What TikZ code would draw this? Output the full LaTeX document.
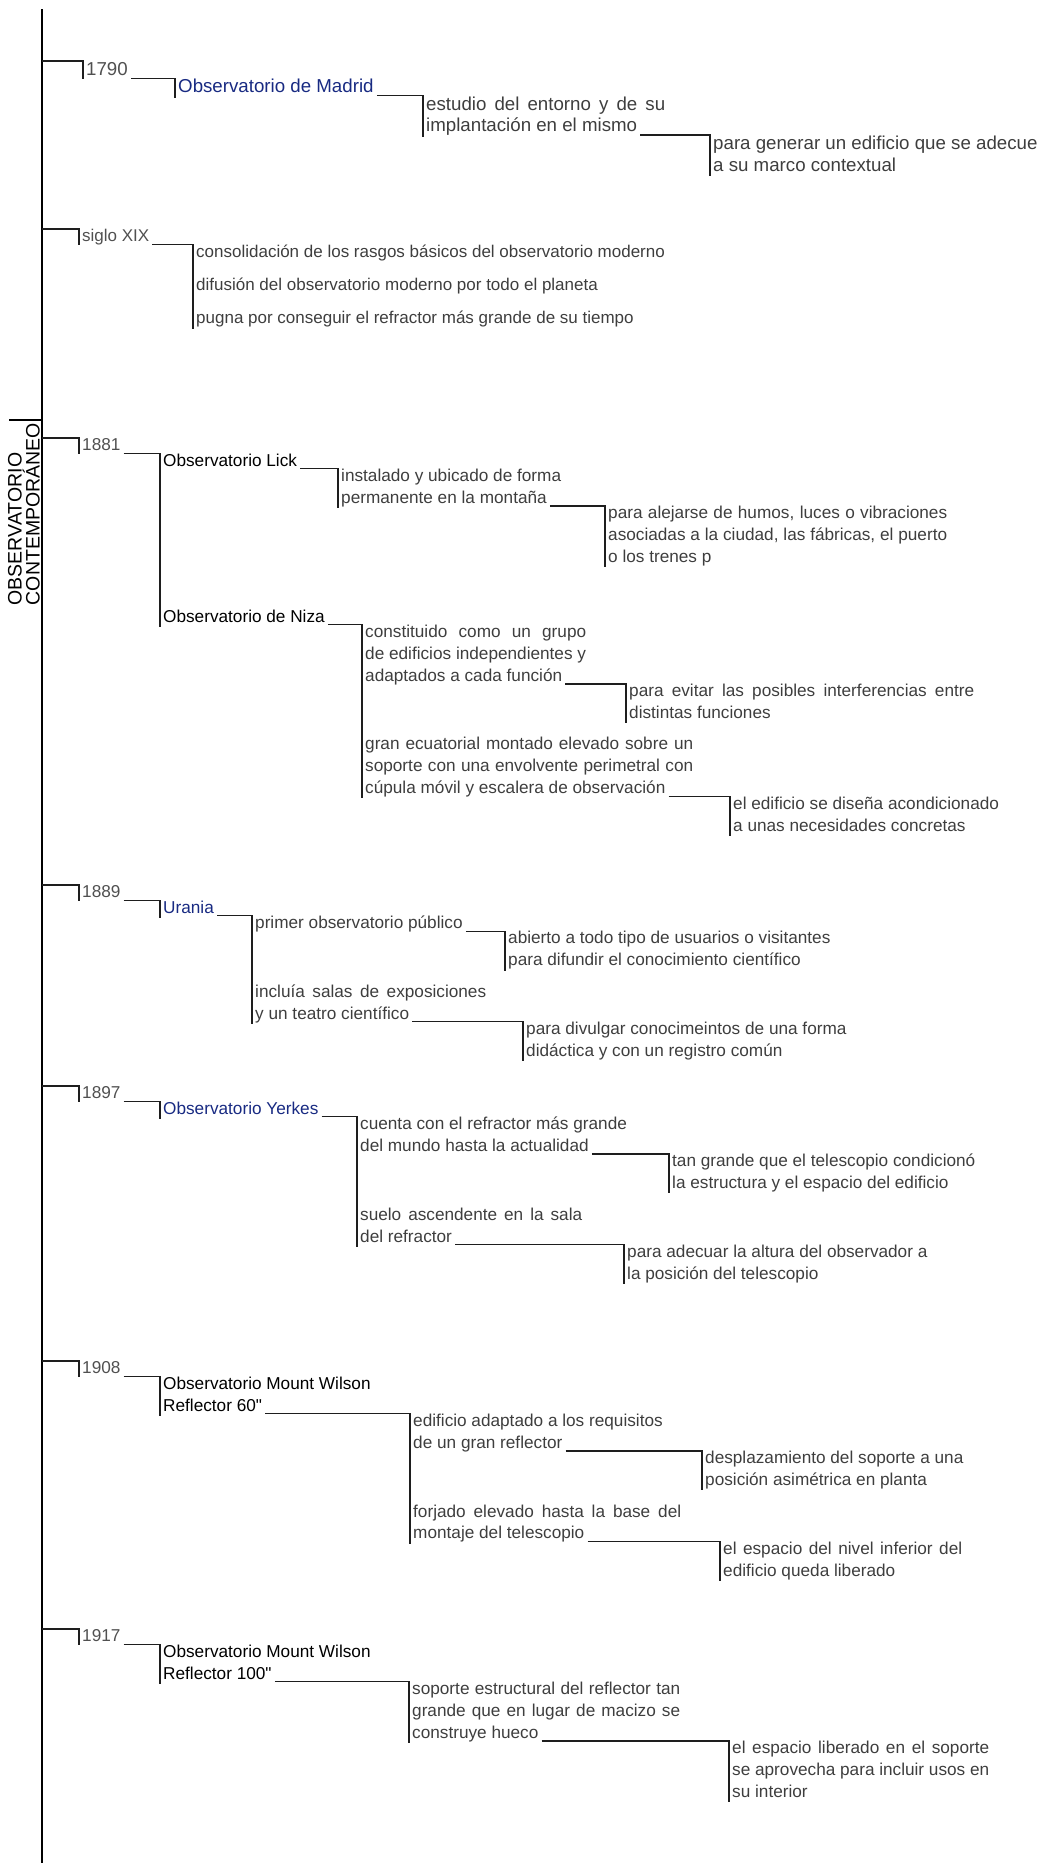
\documentclass[tikz,border=0pt]{standalone}
\usepackage{fontspec}
\setmainfont{Liberation Sans}
\usetikzlibrary{positioning}
\definecolor{ink}{RGB}{30,30,30}
\definecolor{body}{RGB}{62,62,62}
\definecolor{yeargray}{RGB}{80,80,80}
\definecolor{navy}{RGB}{24,42,130}
% linea justificada a un ancho dado
\newcommand{\jline}[2]{\makebox[#1][s]{#2}}

\begin{document}
\begin{tikzpicture}[x=1pt, y=1pt,
    txt/.style={anchor=north west, inner xsep=3pt, inner ysep=0.5pt,
        text height=12pt, text depth=2pt, text=body,
        font=\fontsize{17.2}{20}\selectfont},
    bigtxt/.style={txt, inner ysep=1pt, text height=13pt,
        font=\fontsize{18.7}{21}\selectfont},
    yeartxt/.style={txt, text=yeargray},
    obs/.style={txt, text=black},
    obsblue/.style={txt, text=navy},
    under/.style={below right=6.5pt and 0pt of #1.south west},
    link/.style={draw=ink, line width=1.3pt},
    spine/.style={draw=black, line width=1.6pt}
]
\useasboundingbox (0,0) rectangle (1049,-1863);

% Eje principal y rotulo
\coordinate (top) at (42,-9);
\coordinate (bottom) at (42,-1863);
\coordinate (labtick) at (9,-420);
\draw[spine] (top) -- (bottom);
\draw[spine] (labtick) -- (labtick -| top);
\node[rotate=90, anchor=south east, align=left, inner sep=0pt, text=black,
    font=\fontsize{19.5}{17}\selectfont] (label) at (40,-423)
    {OBSERVATORIO\\CONTEMPORÁNEO};

% 1790
\node[bigtxt, text=yeargray] (y1790) at (83,-61) {1790};
\node[bigtxt, text=navy, below right=0pt and 92pt of y1790.south west] (madrid) {Observatorio de Madrid};
\node[bigtxt, below right=0pt and 248pt of madrid.south west] (entornoA) {\jline{239pt}{estudio del entorno y de su}};
\node[bigtxt, below right=4.5pt and 0pt of entornoA.south west] (entornoB) {implantación en el mismo};
\node[bigtxt, below right=0pt and 287pt of entornoB.south west] (marcoA) {para generar un edificio que se adecue};
\node[bigtxt, below right=4.5pt and 0pt of marcoA.south west] (marcoB) {a su marco contextual};

\draw[link] (y1790.north west -| top) -| ([yshift=-1pt]y1790.south west);
\draw[link] (y1790.south east) -| ([yshift=-2pt]madrid.south west);
\draw[link] (madrid.south east) -| ([yshift=-2pt]entornoB.south west);
\draw[link] (entornoB.south east) -| ([yshift=-2pt]marcoB.south west);

% siglo XIX
\node[yeartxt, font=\fontsize{17}{20}\selectfont] (siglo) at (79,-229) {siglo XIX};
\node[txt, font=\fontsize{17}{20}\selectfont, below right=0pt and 114pt of siglo.south west] (rasgos) {consolidación de los rasgos básicos del observatorio moderno};
\node[txt, font=\fontsize{17}{20}\selectfont, below right=18pt and 0pt of rasgos.south west] (difusion) {difusión del observatorio moderno por todo el planeta};
\node[txt, font=\fontsize{17}{20}\selectfont, below right=18pt and 0pt of difusion.south west] (pugna) {pugna por conseguir el refractor más grande de su tiempo};

\draw[link] (siglo.north west -| top) -| ([yshift=-1pt]siglo.south west);
\draw[link] (siglo.south east) -| ([yshift=-2pt]pugna.south west);

% 1881: Lick y Niza
\node[yeartxt] (y1881) at (79,-438) {1881};
\node[obs, below right=0pt and 81pt of y1881.south west] (lick) {Observatorio Lick};
\node[txt, below right=0pt and 178pt of lick.south west] (montanaA) {instalado y ubicado de forma};
\node[txt, under=montanaA] (montanaB) {permanente en la montaña};
\node[txt, below right=0pt and 267pt of montanaB.south west] (humosA) {\jline{339pt}{para alejarse de humos, luces o vibraciones}};
\node[txt, under=humosA] (humosB) {\jline{339pt}{asociadas a la ciudad, las fábricas, el puerto}};
\node[txt, under=humosB] (humosC) {o los trenes p};

\node[obs, yshift=-44pt] (niza) at (lick.south west |- humosC.south) {Observatorio de Niza};
\node[txt, below right=0pt and 202pt of niza.south west] (grupoA) {\jline{221pt}{constituido como un grupo}};
\node[txt, under=grupoA] (grupoB) {de edificios independientes y};
\node[txt, under=grupoB] (grupoC) {adaptados a cada función};
\node[txt, below right=0pt and 264pt of grupoC.south west] (interfA) {\jline{345pt}{para evitar las posibles interferencias entre}};
\node[txt, under=interfA] (interfB) {distintas funciones};
\node[txt, yshift=-16pt] (ecuatA) at (grupoC.south west |- interfB.south) {\jline{328pt}{gran ecuatorial montado elevado sobre un}};
\node[txt, under=ecuatA] (ecuatB) {\jline{328pt}{soporte con una envolvente perimetral con}};
\node[txt, under=ecuatB] (ecuatC) {cúpula móvil y  escalera de observación};
\node[txt, below right=0pt and 368pt of ecuatC.south west] (necesA) {el edificio se diseña acondicionado};
\node[txt, under=necesA] (necesB) {a unas necesidades concretas};

\draw[link] (y1881.north west -| top) -| ([yshift=-1pt]y1881.south west);
\draw[link] (y1881.south east) -| ([yshift=-2pt]niza.south west);
\draw[link] (lick.south east) -| ([yshift=-2pt]montanaB.south west);
\draw[link] (montanaB.south east) -| ([yshift=-2pt]humosC.south west);
\draw[link] (niza.south east) -| ([yshift=-2pt]ecuatC.south west);
\draw[link] (grupoC.south east) -| ([yshift=-2pt]interfB.south west);
\draw[link] (ecuatC.south east) -| ([yshift=-2pt]necesB.south west);

% 1889: Urania
\node[yeartxt] (y1889) at (79,-885) {1889};
\node[obsblue, below right=0pt and 81pt of y1889.south west] (urania) {Urania};
\node[txt, below right=0pt and 92pt of urania.south west] (publico) {primer observatorio público};
\node[txt, below right=0pt and 253pt of publico.south west] (abiertoA) {abierto a todo tipo de usuarios o visitantes};
\node[txt, under=abiertoA] (abiertoB) {para difundir el conocimiento científico};
\node[txt, yshift=-16pt] (salasA) at (publico.south west |- abiertoB.south) {\jline{231pt}{incluía salas de exposiciones}};
\node[txt, under=salasA] (salasB) {y un teatro científico};
\node[txt, below right=0pt and 271pt of salasB.south west] (divulgA) {para divulgar conocimeintos de una forma};
\node[txt, under=divulgA] (divulgB) {didáctica y con un registro común};

\draw[link] (y1889.north west -| top) -| ([yshift=-1pt]y1889.south west);
\draw[link] (y1889.south east) -| ([yshift=-2pt]urania.south west);
\draw[link] (urania.south east) -| ([yshift=-2pt]salasB.south west);
\draw[link] (publico.south east) -| ([yshift=-2pt]abiertoB.south west);
\draw[link] (salasB.south east) -| ([yshift=-2pt]divulgB.south west);

% 1897: Yerkes
\node[yeartxt] (y1897) at (79,-1086) {1897};
\node[obsblue, below right=0pt and 81pt of y1897.south west] (yerkes) {Observatorio Yerkes};
\node[txt, below right=0pt and 197pt of yerkes.south west] (refracA) {cuenta con el refractor más grande};
\node[txt, under=refracA] (refracB) {del mundo hasta la actualidad};
\node[txt, below right=0pt and 312pt of refracB.south west] (condicA) {tan grande que el telescopio condicionó};
\node[txt, under=condicA] (condicB) {la estructura y el espacio del edificio};
\node[txt, yshift=-16pt] (sueloA) at (refracB.south west |- condicB.south) {\jline{222pt}{suelo ascendente en la sala}};
\node[txt, under=sueloA] (sueloB) {del refractor};
\node[txt, below right=0pt and 267pt of sueloB.south west] (alturaA) {para adecuar la altura del observador a};
\node[txt, under=alturaA] (alturaB) {la posición del telescopio};

\draw[link] (y1897.north west -| top) -| ([yshift=-1pt]y1897.south west);
\draw[link] (y1897.south east) -| ([yshift=-2pt]yerkes.south west);
\draw[link] (yerkes.south east) -| ([yshift=-2pt]sueloB.south west);
\draw[link] (refracB.south east) -| ([yshift=-2pt]condicB.south west);
\draw[link] (sueloB.south east) -| ([yshift=-2pt]alturaB.south west);

% 1908: Mount Wilson 60"
\node[yeartxt] (y1908) at (79,-1361) {1908};
\node[obs, below right=0pt and 81pt of y1908.south west] (wilsonA) {Observatorio Mount Wilson};
\node[obs, under=wilsonA] (wilsonB) {Reflector 60\textquotedbl};
\node[txt, below right=0pt and 250pt of wilsonB.south west] (requisA) {edificio adaptado a los requisitos};
\node[txt, under=requisA] (requisB) {de un gran reflector};
\node[txt, below right=0pt and 292pt of requisB.south west] (asimetA) {desplazamiento del soporte a una};
\node[txt, under=asimetA] (asimetB) {posición asimétrica en planta};
\node[txt, yshift=-16pt] (forjadoA) at (requisB.south west |- asimetB.south) {\jline{268pt}{forjado elevado hasta la base del}};
\node[txt, under=forjadoA] (forjadoB) {montaje del telescopio};
\node[txt, below right=0pt and 310pt of forjadoB.south west] (nivelA) {\jline{239pt}{el espacio del nivel inferior del}};
\node[txt, under=nivelA] (nivelB) {edificio queda liberado};

\draw[link] (y1908.north west -| top) -| ([yshift=-1pt]y1908.south west);
\draw[link] (y1908.south east) -| ([yshift=-2pt]wilsonB.south west);
\draw[link] (wilsonB.south east) -| ([yshift=-2pt]forjadoB.south west);
\draw[link] (requisB.south east) -| ([yshift=-2pt]asimetB.south west);
\draw[link] (forjadoB.south east) -| ([yshift=-2pt]nivelB.south west);

% 1917: Mount Wilson 100"
\node[yeartxt] (y1917) at (79,-1629) {1917};
\node[obs, below right=0pt and 81pt of y1917.south west] (hookerA) {Observatorio Mount Wilson};
\node[obs, under=hookerA] (hookerB) {Reflector 100\textquotedbl};
\node[txt, below right=0pt and 249pt of hookerB.south west] (huecoA) {\jline{268pt}{soporte estructural del reflector tan}};
\node[txt, under=huecoA] (huecoB) {\jline{268pt}{grande que en lugar de macizo se}};
\node[txt, under=huecoB] (huecoC) {construye hueco};
\node[txt, below right=0pt and 320pt of huecoC.south west] (usosA) {\jline{257pt}{el espacio liberado en el soporte}};
\node[txt, under=usosA] (usosB) {\jline{257pt}{se aprovecha para incluir usos en}};
\node[txt, under=usosB] (usosC) {su interior};

\draw[link] (y1917.north west -| top) -| ([yshift=-1pt]y1917.south west);
\draw[link] (y1917.south east) -| ([yshift=-2pt]hookerB.south west);
\draw[link] (hookerB.south east) -| ([yshift=-2pt]huecoC.south west);
\draw[link] (huecoC.south east) -| ([yshift=-2pt]usosC.south west);

\end{tikzpicture}
\end{document}
